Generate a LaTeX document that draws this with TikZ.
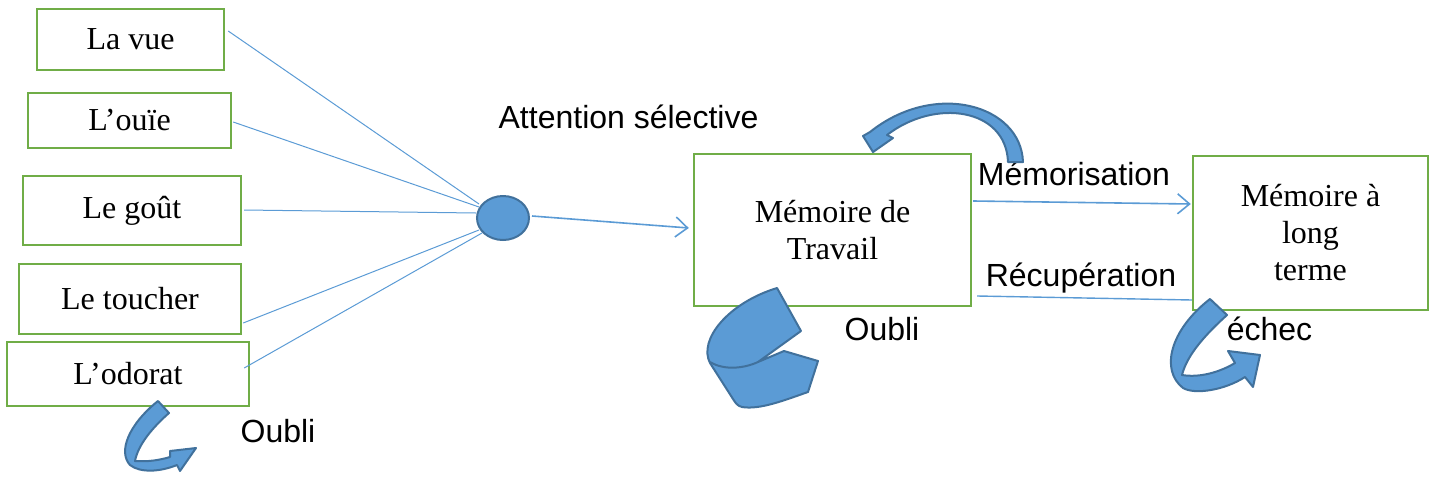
\documentclass[tikz,border=0pt]{standalone}
\usepackage{fontspec}
\setmainfont{Liberation Serif}
\newfontfamily\labelfont{Liberation Sans}
\usetikzlibrary{arrows.meta,calc,shapes.geometric}
\definecolor{boxgreen}{HTML}{70AD47}
\definecolor{lineblue}{HTML}{5B9BD5}
\definecolor{edgeblue}{HTML}{41719C}
\begin{document}
\begin{tikzpicture}[x={(0.5pt,0)},y={(0,-0.5pt)},
  sense/.style={draw=boxgreen,line width=1.2pt,fill=white,inner sep=0pt,
    font=\fontsize{16}{18.5}\selectfont,align=center},
  dot/.style={ellipse,draw=edgeblue,fill=lineblue,line width=1pt,inner sep=0pt,
    minimum width=26pt,minimum height=22pt},
  conn/.style={draw=lineblue,line width=0.5pt},
  flow/.style={draw=lineblue,line width=0.8pt,-{Straight Barb[length=6pt,width=10pt]}},
  lab/.style={anchor=base,inner sep=0pt,font=\labelfont\fontsize{16}{18}\selectfont},
  blockarrow/.style={fill=lineblue,draw=edgeblue,line width=1pt,line join=round}]
\useasboundingbox (0,0) rectangle (1430,477);
% sense boxes
\node[sense,minimum width=93.5pt,minimum height=30.5pt] (vue) at (130.5,39.5) {La vue};
\node[sense,minimum width=101.5pt,minimum height=27.5pt] (ouie) at (129.5,120.5) {L’ouïe};
\node[sense,minimum width=109pt,minimum height=34.5pt] (gout) at (132,210.5) {Le goût};
\node[sense,minimum width=111pt,minimum height=35pt] (toucher) at (130,299) {Le toucher};
\node[sense,minimum width=121pt,minimum height=32pt] (odorat) at (128,374) {L’odorat};
% memory boxes
\node[sense,minimum width=138.5pt,minimum height=76pt] (mdt) at (832.5,230) {Mémoire de\\Travail};
\node[sense,minimum width=117.5pt,minimum height=77pt] (mlt) at (1310.5,233) {Mémoire à\\long\\terme};
% attention dot
\node[dot] (el) at (503,218) {};
% connectors
\draw[conn] ($(vue.east)+(3,-8.5)$) -- ($(el.west)+(3,-14)$);
\draw[conn] ($(ouie.east)+(1,1.5)$) -- ($(el.west)+(3,-11)$);
\draw[conn] ($(gout.east)+(2,-0.5)$) -- ($(el.west)+(0,-5)$);
\draw[conn] ($(toucher.east)+(1,24)$) -- ($(el.west)+(3,12)$);
\draw[conn] ($(odorat.east)+(-6,-6)$) -- ($(el.west)+(6,15)$);
\draw[flow] ($(el.east)+(2,-2)$) -- ($(mdt.west)+(-4,-2)$);
\draw[flow] ($(mdt.east)+(1,-29)$) -- ($(mlt.west)+(-1,-29)$);
\draw[conn,line width=0.7pt] ($(mdt.east)+(5,66)$) -- ($(mlt.west)+(0,67)$);
% labels
\node[lab] (att) at (628.5,128) {Attention sélective};
\node[lab] (memo) at (1074,185) {Mémorisation};
\node[lab] (recup) at (1081,286) {Récupération};
\node[lab] (oubli1) at (882,340) {Oubli};
\node[lab] (oubli2) at (278,442) {Oubli};
\node[lab] (echec) at (1269.5,340) {échec};
% top curved arrow over working memory
\path[blockarrow] (1023,162) .. controls (1021,105) and (935,80) .. (870,132)
  -- (863,136) -- (873,152) -- (893,138) -- (887,135)
  .. controls (935,98) and (1006,108) .. (1008,162) -- cycle;
% ribbon below working memory
\path[blockarrow] (777,288) -- (801,331) -- (758,362) -- (784,351) -- (818,361)
  -- (808,392) .. controls (785,400) and (760,410) .. (742,407)
  .. controls (737,406) and (735,402) .. (733,399) -- (710,363)
  .. controls (698,340) and (728,303) .. (777,288) -- cycle;
\draw[edgeblue,line width=1pt] (710,362) .. controls (725,371) and (745,368) .. (758,362);
% small arrow under L'odorat
\path[blockarrow] (158,401) -- (169,413) .. controls (152,428) and (138,445) .. (135,461)
  .. controls (148,462) and (160,460) .. (170,457) -- (170,451) -- (196,448)
  -- (180,471) -- (177,465) .. controls (160,472) and (140,473) .. (130,465)
  .. controls (118,452) and (128,425) .. (158,401) -- cycle;
% echec arrow
\path[blockarrow] (1210,299) -- (1227,315) .. controls (1205,335) and (1187,355) .. (1182,375)
  .. controls (1200,378) and (1220,372) .. (1235,363) -- (1228,351) -- (1260,355)
  -- (1253,387) -- (1245,377) .. controls (1225,390) and (1195,395) .. (1183,388)
  .. controls (1160,370) and (1170,330) .. (1210,299) -- cycle;
\end{tikzpicture}
\end{document}
